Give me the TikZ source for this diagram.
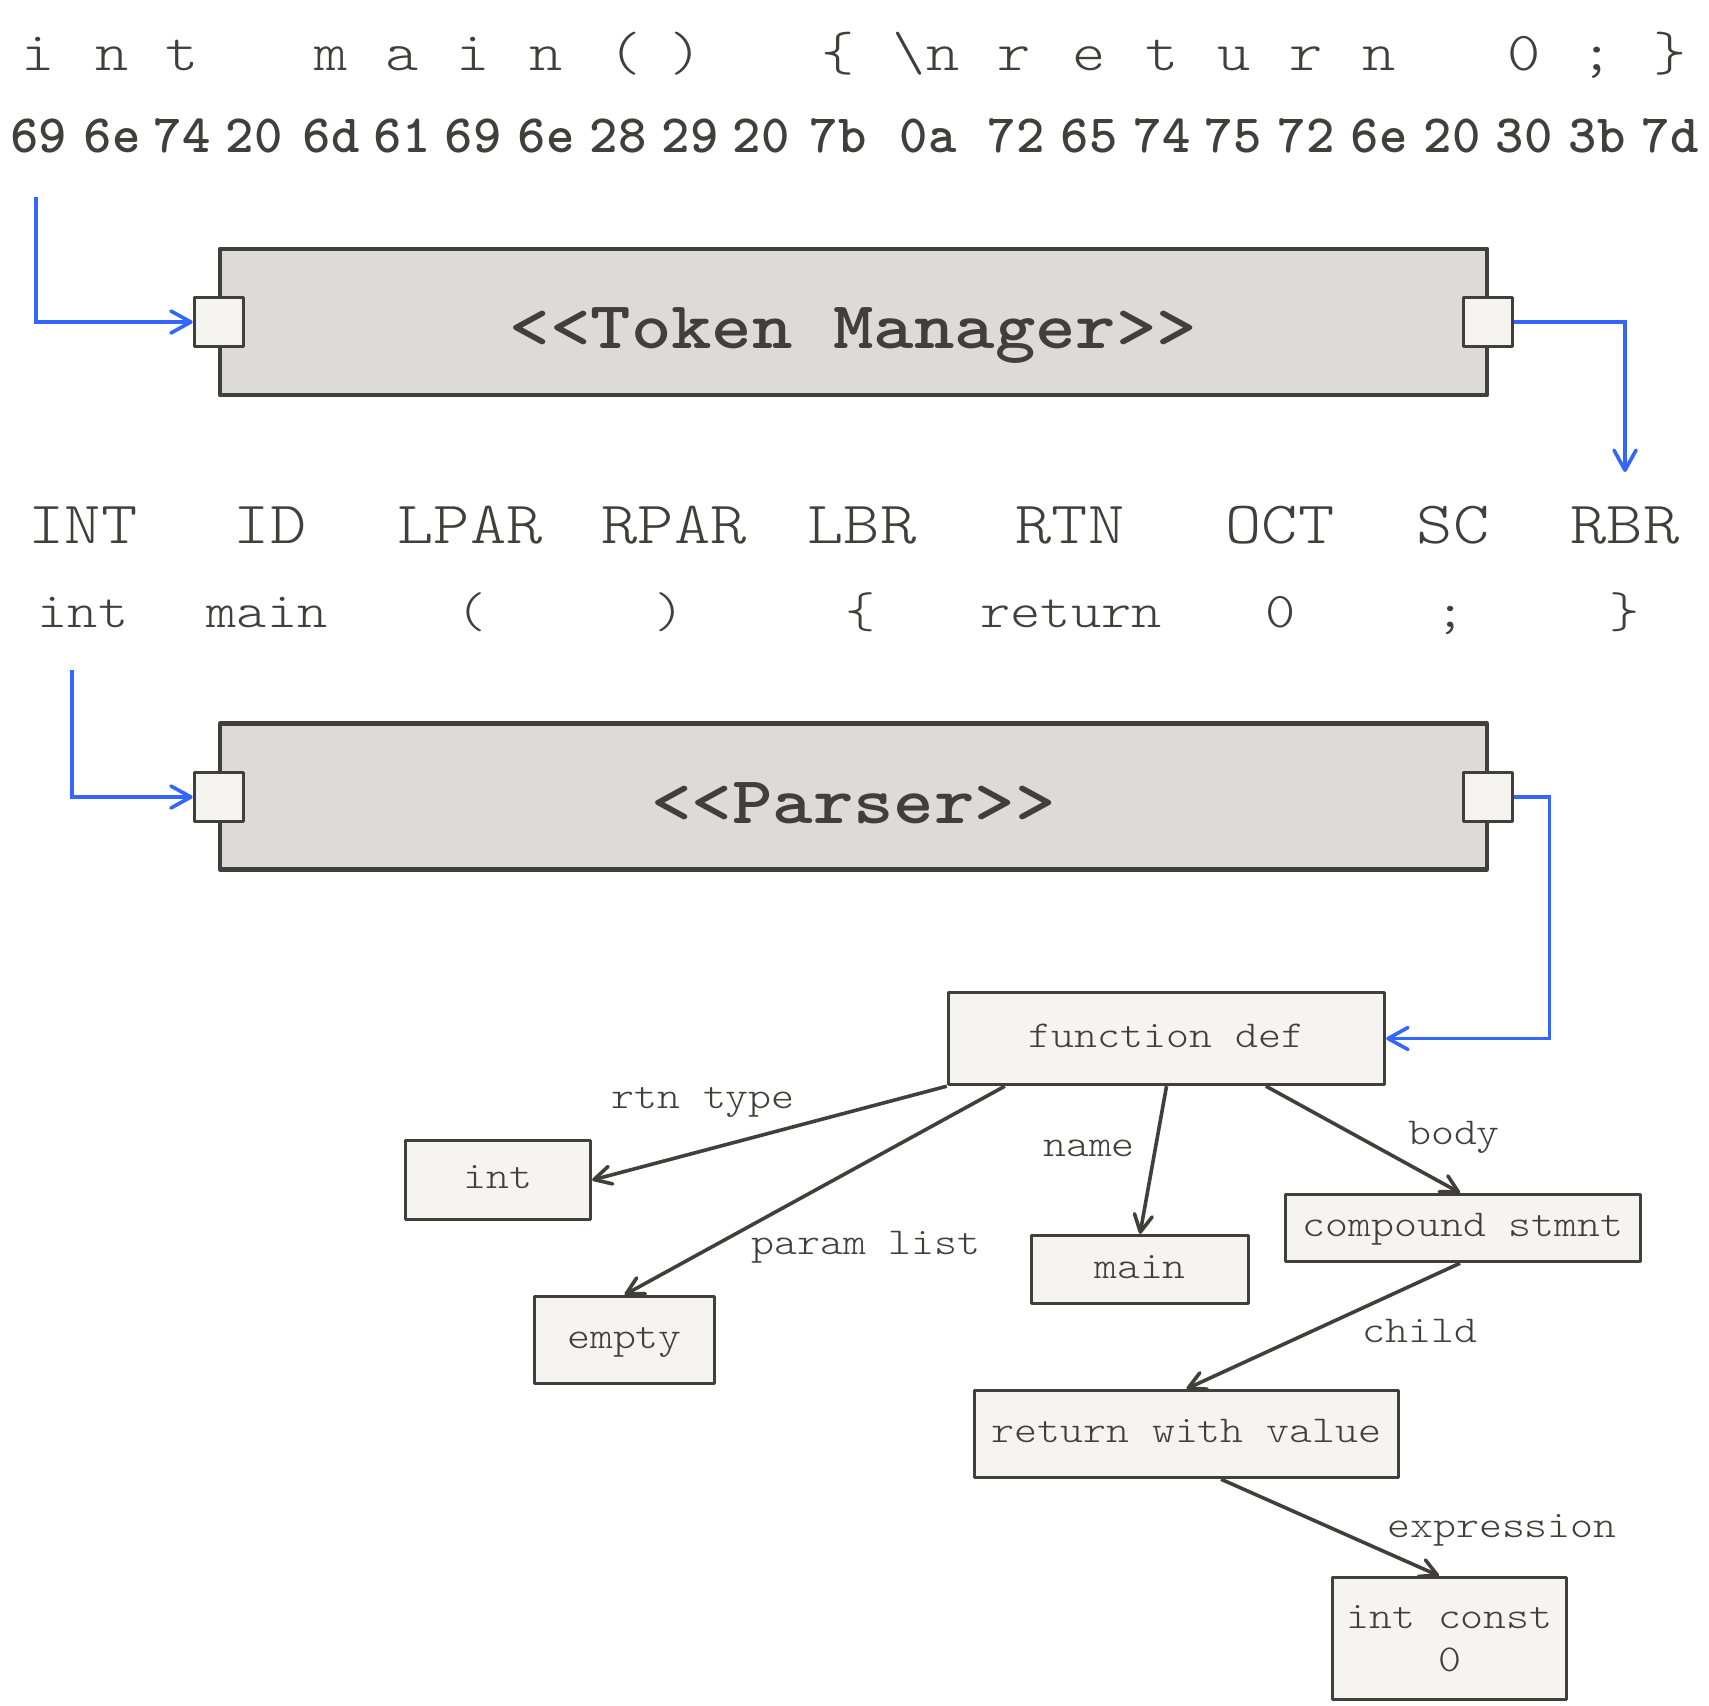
\documentclass[tikz,border=0pt]{standalone}
\usetikzlibrary{arrows.meta}
\definecolor{ink}{HTML}{403F3A}
\definecolor{boxgray}{HTML}{DCDBD7}
\definecolor{paper}{HTML}{F5F4F0}
\definecolor{flow}{HTML}{3366FF}
\newcommand\cwide[1]{\scalebox{1.15}[1]{#1}}
\newcommand\lighttt{\ttfamily\fontseries{l}\selectfont}
\tikzset{
  srcchar/.style={anchor=base, inner sep=0pt, text=ink, font=\lighttt\fontsize{27.5}{30}\selectfont},
  hexbyte/.style={anchor=base, inner sep=0pt, text=ink, font=\ttfamily\bfseries\fontsize{27}{30}\selectfont},
  tokname/.style={anchor=base, inner sep=0pt, text=ink, font=\lighttt\fontsize{30}{32}\selectfont},
  tokval/.style={anchor=base, inner sep=0pt, text=ink, font=\lighttt\fontsize{25}{28}\selectfont},
  component/.style={draw=ink, fill=boxgray, line width=2.1pt, line join=round, minimum width=633.5pt, minimum height=73pt, inner sep=0pt},
  port/.style={draw=ink, fill=paper, line width=1.8pt, line join=round, minimum size=24.5pt, inner sep=0pt},
  complabel/.style={anchor=base, inner sep=0pt, text=ink, font=\ttfamily\bfseries\fontsize{33.5}{36}\selectfont},
  astnode/.style={draw=ink, fill=paper, line width=1.7pt, line join=round, inner sep=0pt, text=ink, font=\lighttt\fontsize{19}{21.5}\selectfont, text height=12pt, text depth=3.5pt},
  astnodetwo/.style={draw=ink, fill=paper, line width=1.7pt, line join=round, inner sep=0pt, text=ink, font=\lighttt\fontsize{19}{21.5}\selectfont, align=center},
  edgelabel/.style={anchor=base, inner sep=0pt, text=ink, font=\lighttt\fontsize{19}{21}\selectfont},
  flowarrow/.style={draw=flow, line width=1.8pt, -{Straight Barb[length=10pt,width=11pt,round]}},
  treearrow/.style={draw=ink, line width=1.8pt, -{Straight Barb[length=8.5pt,width=9pt,round]}},
}
\begin{document}
\begin{tikzpicture}[x=0.5pt,y=-0.5pt]
\useasboundingbox (0,0) rectangle (1709,1705);
\fill[white] (0,0) rectangle (1709,1705);

% source characters
\foreach \x/\c/\nm in {38/i/c1, 112/n/c2, 182/t/c3, 331/m/c5, 402/a/c6, 473/i/c7, 546/n/c8, 625/(/c9, 686/)/c10, 838/\{/c12, 926/\textbackslash n/c13, 1014/r/c14, 1089/e/c15, 1162/t/c16, 1234/u/c17, 1306/r/c18, 1379/n/c19, 1524/0/c21, 1597/;/c22, 1670/\}/c23}
  \node[srcchar] (\nm) at (\x,70) {\cwide{\c}};

% hex bytes
\foreach \x/\c/\nm in {39/69/h1, 112/6e/h2, 182/74/h3, 254/20/h4, 331/6d/h5, 402/61/h6, 473/69/h7, 546/6e/h8, 618/28/h9, 690/29/h10, 761/20/h11, 838/7b/h12, 928/0a/h13, 1016/72/h14, 1089/65/h15, 1162/74/h16, 1233/75/h17, 1306/72/h18, 1379/6e/h19, 1452/20/h20, 1524/30/h21, 1597/3b/h22, 1670/7d/h23}
  \node[hexbyte] (\nm) at (\x,152) {\c};

% token manager
\node[component] (tm) at (853.5,322) {};
\node[port] (tmin) at (219,322) {};
\node[port] (tmout) at (1488,322) {};
\node[complabel] (tmlabel) at (853.5,348) {\cwide{<\kern0pt<Token Manager>\kern0pt>}};

% tokens
\foreach \x/\c/\nm in {83/INT/k1, 270/ID/k2, 470/LPAR/k3, 674/RPAR/k4, 862/LBR/k5, 1070/RTN/k6, 1280/OCT/k7, 1453/SC/k8, 1625/RBR/k9}
  \node[tokname] (\nm) at (\x,543) {\cwide{\c}};
\foreach \x/\c/\nm in {83/int/v1, 267/main/v2, 472/(/v3, 670/)/v4, 861/\{/v5, 1071/return/v6, 1281/0/v7, 1451/;/v8, 1625/\}/v9}
  \node[tokval] (\nm) at (\x,627) {\cwide{\c}};

% parser
\node[component] (ps) at (853.5,796.5) {};
\node[port] (psin) at (219,797) {};
\node[port] (psout) at (1488,797) {};
\node[complabel] (pslabel) at (853.5,823) {\cwide{<\kern0pt<Parser>\kern0pt>}};

% blue flow arrows
\coordinate (srcA) at (36,197);
\coordinate (tokA) at (1625,472);
\coordinate (srcB) at (72,670);
\draw[flowarrow] (srcA) |- (tmin.west);
\draw[flowarrow] (tmout.east) -| (tokA);
\draw[flowarrow] (srcB) |- (psin.west);

% AST
\node[astnode, minimum width=218pt, minimum height=46pt] (fd) at (1166.5,1038.5) {\cwide{function def}};
\node[astnode, minimum width=92.5pt, minimum height=39.5pt] (int) at (498,1180) {\cwide{int}};
\node[astnode, minimum width=90pt, minimum height=43.5pt] (empty) at (624.5,1340) {\cwide{empty}};
\node[astnode, minimum width=108.5pt, minimum height=34pt] (main) at (1140,1269.5) {\cwide{main}};
\node[astnode, minimum width=177.5pt, minimum height=33.5pt] (cs) at (1463,1228) {\cwide{compound stmnt}};
\node[astnode, minimum width=212pt, minimum height=43.5pt] (rv) at (1186.5,1434) {\cwide{return with value}};
\node[astnodetwo, minimum width=117pt, minimum height=61pt] (ic) at (1449.5,1638.5) {\cwide{int const}\\\cwide{0}};

\draw[flowarrow] (psout.east) -- ++(35,0) |- (fd.east);

\draw[treearrow] (fd.south west) -- (int.east);
\draw[treearrow] ([xshift=29pt]fd.south west) -- (empty.north);
\draw[treearrow] (fd.south) -- (main.north);
\draw[treearrow] ([xshift=49.75pt]fd.south) -- ([xshift=-1.5pt]cs.north);
\draw[treearrow] ([xshift=-1.5pt]cs.south) -- (rv.north);
\draw[treearrow] ([xshift=17.25pt]rv.south) -- ([xshift=-5.25pt]ic.north);

\node[edgelabel] (lrt) at (703,1108) {\cwide{rtn type}};
\node[edgelabel] (lname) at (1089,1156) {\cwide{name}};
\node[edgelabel] (lbody) at (1454,1144) {\cwide{body}};
\node[edgelabel] (lparam) at (866,1254) {\cwide{param list}};
\node[edgelabel] (lchild) at (1420,1342) {\cwide{child}};
\node[edgelabel] (lexpr) at (1502,1537) {\cwide{expression}};
\end{tikzpicture}
\end{document}
